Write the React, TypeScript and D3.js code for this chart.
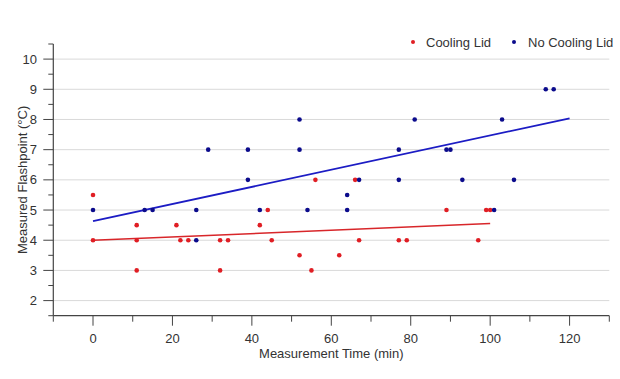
import React from "react";
import * as d3 from "d3";

const coolingX = [0, 0, 11, 11, 11, 21, 22, 24, 32, 32, 34, 42, 44, 45, 52, 55, 56, 62, 66, 67, 77, 79, 89, 97, 99, 100];
const coolingY = [5.5, 4, 4.5, 4, 3, 4.5, 4, 4, 4, 3, 4, 4.5, 5, 4, 3.5, 3, 6, 3.5, 6, 4, 4, 4, 5, 4, 5, 5];
const noCoolingX = [0, 13, 15, 26, 26, 29, 39, 39, 42, 52, 52, 54, 64, 64, 67, 77, 77, 81, 89, 90, 93, 101, 103, 106, 114, 116];
const noCoolingY = [5, 5, 5, 5, 4, 7, 7, 6, 5, 8, 7, 5, 5.5, 5, 6, 7, 6, 8, 7, 7, 6, 5, 8, 6, 9, 9];
const coolingFitX = [0, 100];
const coolingFitY = [4.0, 4.55];
const noCoolingFitX = [0, 120];
const noCoolingFitY = [4.63, 8.04];
const xTicks = [-10, 0, 10, 20, 30, 40, 50, 60, 70, 80, 90, 100, 110, 120, 130];
const xLabels = [0, 20, 40, 60, 80, 100, 120];
const yTicks = [1.5, 2, 2.5, 3, 3.5, 4, 4.5, 5, 5.5, 6, 6.5, 7, 7.5, 8, 8.5, 9, 9.5, 10, 10.5];
const yLabels = [2, 3, 4, 5, 6, 7, 8, 9, 10];
const seriesNames = ["Cooling Lid", "No Cooling Lid"];

const RED = "#e01e24";
const BLUE = "#0b0b8c";
const RED_LINE = "#d8262a";
const BLUE_LINE = "#1c1cc4";
const FONT = "'Liberation Sans', Arial, sans-serif";

export default function App() {
  const W = 620, H = 379;
  const left = 53.3, right = 609.3, top = 44, bottom = 315.7;
  const x = d3.scaleLinear().domain([-10, 130]).range([left, right]);
  const y = d3.scaleLinear().domain([1.5, 10.5]).range([bottom, top]);
  const line = d3.line<[number, number]>().x(d => x(d[0])).y(d => y(d[1]));
  const redFit = line(coolingFitX.map((v, i) => [v, coolingFitY[i]] as [number, number])) || "";
  const blueFit = line(noCoolingFitX.map((v, i) => [v, noCoolingFitY[i]] as [number, number])) || "";
  const axisColor = "#444";
  return (
    <svg width={W} height={H} style={{ position: "absolute", left: 0, top: 0, background: "#fff" }} fontFamily={FONT}>
      {yLabels.map(v => (
        <line key={"g" + v} x1={left} x2={right} y1={y(v)} y2={y(v)} stroke="#d9d9d9" strokeWidth={1} />
      ))}
      {/* axes */}
      <line x1={left} x2={left} y1={top} y2={bottom} stroke={axisColor} strokeWidth={1.2} />
      <line x1={left} x2={right} y1={bottom} y2={bottom} stroke={axisColor} strokeWidth={1.2} />
      {yTicks.map(v => {
        const major = Number.isInteger(v);
        return <line key={"yt" + v} x1={left - (major ? 10 : 5)} x2={left} y1={y(v)} y2={y(v)} stroke={axisColor} strokeWidth={1} />;
      })}
      {xTicks.map(v => {
        const major = v % 20 === 0;
        return <line key={"xt" + v} x1={x(v)} x2={x(v)} y1={bottom} y2={bottom + (major ? 10 : 6)} stroke={axisColor} strokeWidth={1} />;
      })}
      {yLabels.map(v => (
        <text key={"yl" + v} x={37} y={y(v)} dy="0.35em" textAnchor="end" fontSize={13} fill="#333">{v}</text>
      ))}
      {xLabels.map(v => (
        <text key={"xl" + v} x={x(v)} y={338} dy="0.35em" textAnchor="middle" fontSize={13} fill="#333">{v}</text>
      ))}
      <text x={(left + right) / 2} y={353} dy="0.35em" textAnchor="middle" fontSize={13} fill="#333">Measurement Time (min)</text>
      <text transform={`translate(22,${(top + bottom) / 2}) rotate(-90)`} dy="0.35em" textAnchor="middle" fontSize={13} fill="#333">Measured Flashpoint (°C)</text>
      {/* fit lines */}
      <path d={redFit} stroke={RED_LINE} strokeWidth={1.5} fill="none" />
      <path d={blueFit} stroke={BLUE_LINE} strokeWidth={1.8} fill="none" />
      {/* points */}
      {coolingX.map((v, i) => (
        <circle key={"c" + i} cx={x(v)} cy={y(coolingY[i])} r={2.3} fill={RED} />
      ))}
      {noCoolingX.map((v, i) => (
        <circle key={"n" + i} cx={x(v)} cy={y(noCoolingY[i])} r={2.3} fill={BLUE} />
      ))}
      {/* legend */}
      <circle cx={413} cy={42} r={2} fill={RED} />
      <text x={426} y={42} dy="0.35em" fontSize={13} fill="#333">{seriesNames[0]}</text>
      <circle cx={514} cy={42} r={2} fill={BLUE} />
      <text x={528} y={42} dy="0.35em" fontSize={13} fill="#333">{seriesNames[1]}</text>
    </svg>
  );
}
